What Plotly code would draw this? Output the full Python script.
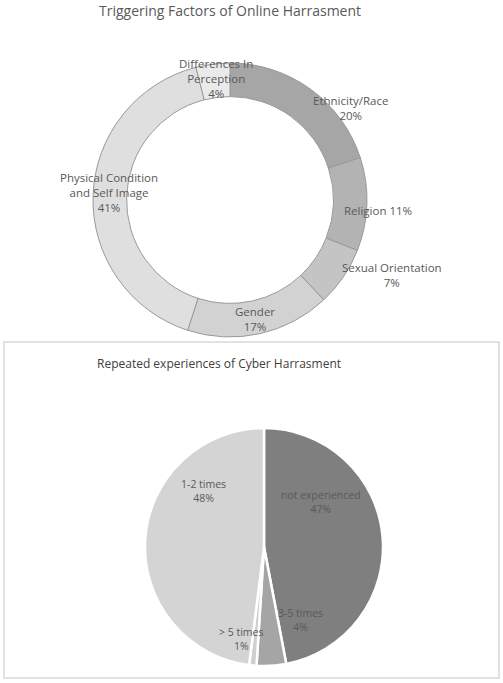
import plotly.graph_objects as go

W, H = 503, 683

# donut: triggering factors
factor_labels = ['Ethnicity/Race', 'Religion', 'Sexual Orientation', 'Gender',
                 'Physical Condition and Self Image', 'Differences In Perception']
factor_values = [20, 11, 7, 17, 41, 4]
factor_text = ['Ethnicity/Race<br>20%', 'Religion 11%', 'Sexual Orientation<br>7%',
               'Gender<br>17%', 'Physical Condition<br>and Self Image<br>41%',
               'Differences In<br>Perception<br>4%']

# pie: repeated experiences
repeat_labels = ['not experienced', '3-5 times', '> 5 times', '1-2 times']
repeat_values = [47, 4, 1, 48]
repeat_text = ['not experienced<br>47%', '3-5 times<br>4%', '> 5 times<br>1%',
               '1-2 times<br>48%']

factor_colors = ['#a6a6a6', '#b3b3b3', '#c4c4c4', '#d2d2d2', '#dfdfdf', '#eaeaea']
repeat_colors = ['#7f7f7f', '#a5a5a5', '#cfcfcf', '#d4d4d4']

# label centres in pixels (layout only)
factor_pos = [(350, 108), (378, 210), (392, 275), (255, 319), (109, 193), (216, 79)]
repeat_pos = [(321, 502), (300, 620), (241, 639), (203, 491)]


def px(x, y):
    return x / W, 1 - y / H


def dom(cx, cy, r):
    return dict(x=[(cx - r) / W, (cx + r) / W], y=[1 - (cy + r) / H, 1 - (cy - r) / H])


fig = go.Figure()

fig.add_trace(go.Pie(
    labels=factor_labels, values=factor_values,
    hole=0.755, sort=False, direction='clockwise', rotation=0,
    textinfo='none', showlegend=False, hoverinfo='label+percent',
    marker=dict(colors=factor_colors, line=dict(color='#999999', width=1)),
    domain=dom(230, 200, 137)))

fig.add_trace(go.Pie(
    labels=repeat_labels, values=repeat_values,
    sort=False, direction='clockwise', rotation=0,
    textinfo='none', showlegend=False, hoverinfo='label+percent',
    marker=dict(colors=repeat_colors, line=dict(color='#ffffff', width=2.5)),
    domain=dom(264, 547, 119)))


def label(t, x, y, size, color='#595959'):
    ax, ay = px(x, y)
    return dict(x=ax, y=ay, xref='paper', yref='paper', text=t,
                xanchor='center', yanchor='middle', showarrow=False, align='center',
                font=dict(size=size, color=color))


annotations = []
for t, (x, y) in zip(factor_text, factor_pos):
    annotations.append(label(t, x, y, 11.5))
for t, (x, y) in zip(repeat_text, repeat_pos):
    annotations.append(label(t, x, y, 10.5))

annotations.append(label('Triggering Factors of Online Harrasment', 230, 10, 14))
annotations.append(label('Repeated experiences of Cyber Harrasment', 219, 363, 12, '#404040'))

x0, y1 = px(4, 342)
x1, y0 = px(499, 678)

fig.update_layout(
    width=W, height=H,
    margin=dict(l=0, r=0, t=0, b=0),
    paper_bgcolor='white',
    plot_bgcolor='white',
    font=dict(family='Open Sans', color='#595959'),
    annotations=annotations,
    shapes=[dict(type='rect', xref='paper', yref='paper', x0=x0, x1=x1, y0=y0, y1=y1,
                 line=dict(color='#d9d9d9', width=1.5))],
)

fig.write_html("out.html", config={'displayModeBar': False},
               post_script="document.body.style.margin='0';")
